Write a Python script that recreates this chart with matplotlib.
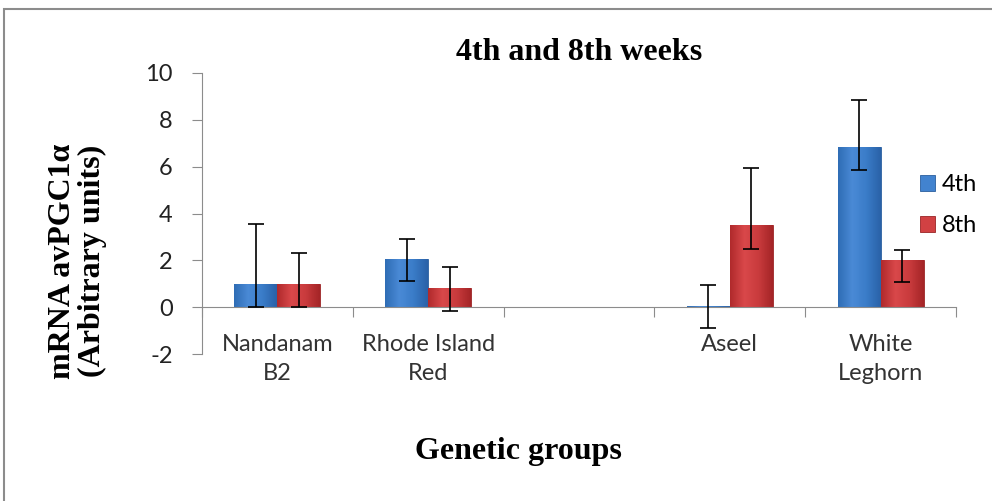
import numpy as np
import matplotlib
matplotlib.use("Agg")
import matplotlib.pyplot as plt
from matplotlib.patches import Rectangle
from matplotlib.colors import LinearSegmentedColormap

# Data (one empty slot between Rhode Island Red and Aseel)
groups = ["Nandanam\nB2", "Rhode Island\nRed", "", "Aseel", "White\nLeghorn"]
week4 = [1.0, 2.05, np.nan, 0.05, 6.82]
week4_err_lo = [1.0, 0.95, np.nan, 0.95, 0.95]
week4_err_hi = [2.55, 0.88, np.nan, 0.88, 2.03]
week8 = [1.0, 0.8, np.nan, 3.49, 2.0]
week8_err_lo = [1.0, 0.97, np.nan, 1.02, 0.94]
week8_err_hi = [1.32, 0.9, np.nan, 2.47, 0.43]
series_names = ["4th", "8th"]

plt.rcParams['font.family'] = ['Lato', 'DejaVu Sans']
plt.rcParams['axes.unicode_minus'] = False

fig = plt.figure(figsize=(9.92, 5.01), dpi=100)
ax = fig.add_axes([0.2036, 0.2934, 0.7601, 0.5609])

x = np.arange(len(groups))
w = 0.285

blue_cmap = LinearSegmentedColormap.from_list("b", ["#2f6db5", "#4a8ad6", "#3a7cc8", "#2a62a8"])
red_cmap = LinearSegmentedColormap.from_list("r", ["#b02a2c", "#d9484a", "#c93b3d", "#a52527"])


def draw_bars(pos, vals, lo, hi, cmap, edge, label):
    bars = ax.bar(pos, vals, width=w, color=cmap(0.5), edgecolor=edge, linewidth=0.6,
                  label=label, zorder=2)
    grad = np.linspace(0, 1, 64).reshape(1, -1)
    for b in bars:
        h = b.get_height()
        if np.isnan(h):
            continue
        im = ax.imshow(grad, cmap=cmap, aspect='auto', zorder=2.1,
                       extent=[b.get_x(), b.get_x() + b.get_width(), 0, h])
        im.set_clip_path(b)
    ax.errorbar(pos, vals, yerr=[lo, hi], fmt='none', ecolor='black',
                elinewidth=1.2, capsize=6, capthick=1.2, zorder=3)
    return bars


draw_bars(x - w / 2, week4, week4_err_lo, week4_err_hi, blue_cmap, "#2a5e9e", series_names[0])
draw_bars(x + w / 2, week8, week8_err_lo, week8_err_hi, red_cmap, "#9a2426", series_names[1])

ax.set_xlim(-0.5, len(groups) - 0.5)
ax.set_ylim(-2, 10)
ax.set_yticks(range(-2, 11, 2))

# axes styling like the spreadsheet chart
for s in ["top", "right"]:
    ax.spines[s].set_visible(False)
ax.spines["bottom"].set_position(("data", 0))
ax.spines["bottom"].set_color("#8c8c8c")
ax.spines["left"].set_color("#8c8c8c")
ax.set_xticks(np.arange(-0.5, len(groups)), minor=False)
ax.set_xticklabels([])
ax.set_xticks(x, minor=True)
ax.set_xticklabels(groups, minor=True, fontsize=17, color="#333333", linespacing=1.5)
ax.tick_params(axis="x", which="major", length=7, color="#8c8c8c", direction="out")
ax.tick_params(axis="x", which="minor", length=0, pad=19)
ax.tick_params(axis="y", length=7, color="#8c8c8c", labelsize=17, labelcolor="#222222", pad=14)

ax.set_title("4th and 8th weeks", family="Liberation Serif", fontweight="bold",
             fontsize=23, pad=9)
fig.text(0.523, 0.098, "Genetic groups", family="Liberation Serif", fontweight="bold",
         fontsize=23, ha="center", va="center")
fig.text(0.078, 0.479, "mRNA avPGC1\u03b1\n(Arbitrary units)", family="Liberation Serif",
         fontweight="bold", fontsize=23, rotation=90, ha="center", va="center",
         linespacing=1.05)

ax.legend(loc="center left", bbox_to_anchor=(0.952, 0.53), frameon=False, fontsize=17,
          handlelength=0.65, handleheight=0.65, handletextpad=0.3, labelspacing=0.85,
          borderpad=0, borderaxespad=0)

# outer chart frame
fig.patches.append(Rectangle((0.004, -0.1), 1.2, 1.083, transform=fig.transFigure,
                             fill=False, edgecolor="#8c8c8c", linewidth=1.5))

fig.savefig("out.png", dpi=100)
